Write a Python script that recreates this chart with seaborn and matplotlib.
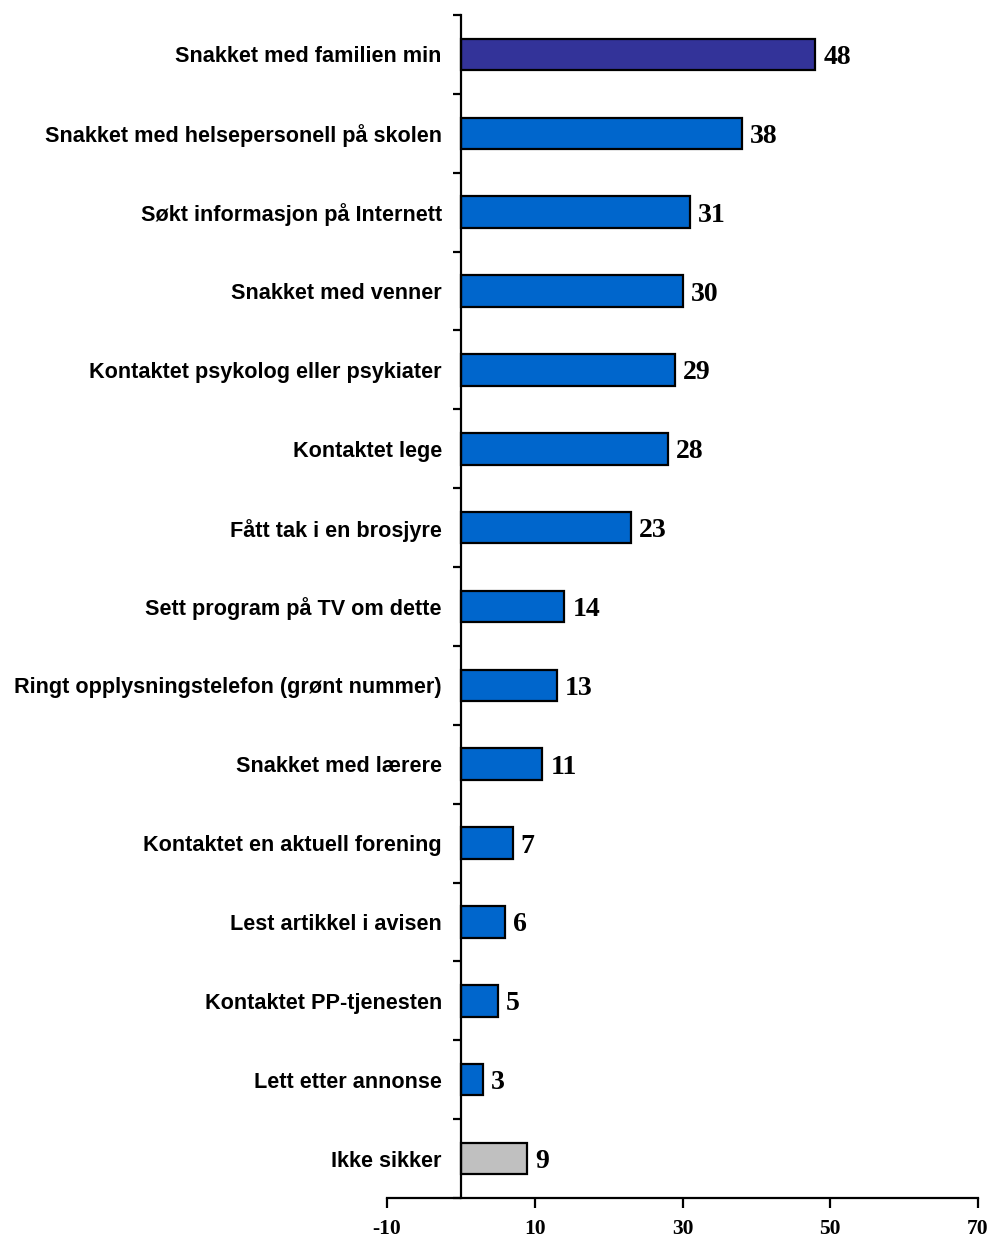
import matplotlib
matplotlib.use("Agg")
import matplotlib.pyplot as plt
import seaborn as sns
import pandas as pd
import numpy as np

# Survey answers: what the respondents did (percent)
categories = [
    "Snakket med familien min",
    "Snakket med helsepersonell på skolen",
    "Søkt informasjon på Internett",
    "Snakket med venner",
    "Kontaktet psykolog eller psykiater",
    "Kontaktet lege",
    "Fått tak i en brosjyre",
    "Sett program på TV om dette",
    "Ringt opplysningstelefon (grønt nummer)",
    "Snakket med lærere",
    "Kontaktet en aktuell forening",
    "Lest artikkel i avisen",
    "Kontaktet PP-tjenesten",
    "Lett etter annonse",
    "Ikke sikker",
]
values = [48, 38, 31, 30, 29, 28, 23, 14, 13, 11, 7, 6, 5, 3, 9]
bar_colors = ["#333399"] + ["#0066CC"] * 13 + ["#C0C0C0"]
x_ticks = [-10, 10, 30, 50, 70]

df = pd.DataFrame({"category": categories, "value": values})

sns.set_theme(style="white")
plt.rcParams["font.family"] = ["Liberation Sans", "DejaVu Sans"]
plt.rcParams["text.color"] = "black"
plt.rcParams["xtick.color"] = "black"
plt.rcParams["ytick.color"] = "black"

fig = plt.figure(figsize=(9.91, 12.38), dpi=100)
ax = fig.add_axes([387 / 991, 1 - 1198 / 1238, (978 - 387) / 991, (1198 - 15) / 1238])

sns.barplot(data=df, x="value", y="category", hue="category",
            palette=bar_colors, legend=False, orient="h", saturation=1,
            width=0.4, edgecolor="black", linewidth=1.6, ax=ax)

ax.set_xlim(-10, 70)
ax.set_ylim(len(categories) - 0.5, -0.5)

# Value labels next to each bar
for i, v in enumerate(values):
    ax.text(v + 1.1, i, f"{v}", va="center_baseline", ha="left",
            fontsize=20, fontweight="bold", family="Liberation Serif",
            color="black")

# Spines: vertical axis at x=0, horizontal axis at bottom
for s in ["top", "right"]:
    ax.spines[s].set_visible(False)
ax.spines["left"].set_position(("data", 0))
for s in ["left", "bottom"]:
    ax.spines[s].set_color("black")
    ax.spines[s].set_linewidth(1.6)

# Y ticks: boundary marks between categories, labels centred on bars
ax.set_yticks(np.arange(len(categories)))
ax.set_yticks(np.arange(-0.5, len(categories), 1.0), minor=True)
ax.tick_params(axis="y", which="major", length=0, pad=13.7)
ax.tick_params(axis="y", which="minor", length=6, width=1.6, color="black",
               direction="out", left=True)
ax.set_yticklabels(categories, fontsize=15.6, fontweight="bold", color="black")

ax.set_xticks(x_ticks)
ax.set_xticklabels([str(t) for t in x_ticks], fontsize=15.5,
                   fontweight="bold", family="Liberation Serif", color="black")
ax.tick_params(axis="x", which="major", length=7, width=1.6, color="black",
               direction="out", bottom=True, pad=8)

ax.set_xlabel("")
ax.set_ylabel("")
ax.grid(False)

fig.savefig("out.png", dpi=100)
